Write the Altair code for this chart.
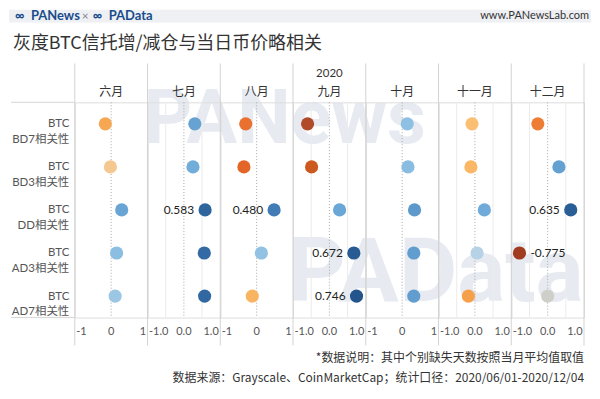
import altair as alt
import pandas as pd

# ---------------- data ----------------
months = ["六月", "七月", "八月", "九月", "十月", "十一月", "十二月"]
rows = ["BTC BD7相关性", "BTC BD3相关性", "BTC DD相关性", "BTC AD3相关性", "BTC AD7相关性"]

bd7 = [-0.16, 0.30, -0.30, -0.60, 0.14, -0.08, -0.27]
bd3 = [-0.02, 0.25, -0.35, -0.49, 0.16, -0.11, 0.31]
dd = [0.29, 0.583, 0.480, 0.28, 0.34, 0.26, 0.635]
ad3 = [0.15, 0.56, 0.13, 0.672, 0.32, 0.06, -0.775]
ad7 = [0.11, 0.57, -0.12, 0.746, 0.32, -0.18, 0.00]

bd7_lab = ["", "", "", "", "", "", ""]
bd3_lab = ["", "", "", "", "", "", ""]
dd_lab = ["", "0.583", "0.480", "", "", "", "0.635"]
ad3_lab = ["", "", "", "0.672", "", "", "-0.775"]
ad7_lab = ["", "", "", "0.746", "", "", ""]

tick_values = [-1, 0, 1]
tick_formats = ["d", ".1f", "d", ".1f", "d", ".1f", ".1f"]
half_grid = [-0.5, 0.5]

title_text = "灰度BTC信托增/减仓与当日币价略相关"
year_text = "2020"
note_text = "*数据说明：其中个别缺失天数按照当月平均值取值"
source_text = "数据来源：Grayscale、CoinMarketCap；统计口径：2020/06/01-2020/12/04"

records = []
for r, vals, labs in zip(rows, [bd7, bd3, dd, ad3, ad7],
                         [bd7_lab, bd3_lab, dd_lab, ad3_lab, ad7_lab]):
    for m, v, l in zip(months, vals, labs):
        records.append({"row": r, "month": m, "value": v, "label": l})
df = pd.DataFrame(records)

# ---------------- styling ----------------
W, H = 73, 216
FONT = "Lato, 'Noto Sans CJK SC', sans-serif"
CJK = "'Noto Sans CJK SC', sans-serif"

c_dom = [-0.8, -0.6, -0.48, -0.32, -0.18, -0.09, -0.02, 0, 0.06, 0.14, 0.28, 0.35, 0.5, 0.6, 0.8]
c_rng = ["#A03A1E", "#B04A2A", "#CF5A1E", "#E8682A", "#F5A04A", "#FBBE6E", "#F6C891",
         "#CFCFCA", "#B5D2E6", "#8DC0E2", "#6AA6D6", "#5B97C9", "#3E78B3", "#2C6199", "#1F4F86"]

xs = alt.Scale(domain=[-1, 1], nice=False, zero=False)
ys = alt.Scale(domain=rows)
cs = alt.Scale(domain=c_dom, range=c_rng, interpolate="rgb")

one = pd.DataFrame({"a": [0]})


def txt(text, x, y, **kw):
    return alt.Chart(one).mark_text(text=text, **kw).encode(x=alt.value(x), y=alt.value(y))


def tick_layer(fmt, cond, align, dx):
    return alt.Chart(pd.DataFrame({"value": tick_values})).transform_filter(cond).transform_calculate(
        lab="replace(format(datum.value, '%s'), '\u2212', '-')" % fmt
    ).mark_text(align=align, dx=dx, fontSize=11, color="#555", baseline="middle", font=FONT).encode(
        x=alt.X("value:Q", scale=xs, axis=None), y=alt.value(H + 14), text="lab:N")


def panel(i, m, fmt):
    d = df[df.month == m]
    if i == 0:
        yaxis = alt.Axis(title=None, labelExpr="split(datum.label, ' ')", ticks=False,
                         domain=False, grid=False, labelFontSize=11.5, labelColor="#555",
                         labelLineHeight=16, labelPadding=6, labelFont=FONT)
    else:
        yaxis = None

    layers = []
    if i == 0:
        wm = "#E7EBF1"
        layers += [
            alt.Chart(one).mark_rect(color="#EEF0F4").encode(
                x=alt.value(-66), x2=alt.value(518), y=alt.value(-93), y2=alt.value(-80)),
            txt("∞", -60, -86.5, fontSize=13, fontWeight="bold", color="#1A4C8B", align="left", baseline="middle", font=FONT),
            txt("PANews", -44, -86.5, fontSize=13, fontWeight="bold", color="#1A4C8B", align="left", baseline="middle", font=FONT),
            txt("×", 7, -86.5, fontSize=12, color="#888", align="left", baseline="middle", font=FONT),
            txt("∞", 18, -86.5, fontSize=13, fontWeight="bold", color="#1A4C8B", align="left", baseline="middle", font=FONT),
            txt("PAData", 34, -86.5, fontSize=13, fontWeight="bold", color="#1A4C8B", align="left", baseline="middle", font=FONT),
            txt("www.PANewsLab.com", 516, -86.5, fontSize=11, color="#333", align="right", baseline="middle", font=FONT),
            txt(title_text, -62, -59, fontSize=18, color="#333", align="left", baseline="middle", font=CJK),
            txt("PANews", 69, 41, fontSize=76, fontWeight="bold", color=wm, align="left", baseline="alphabetic", font="Roboto"),
            txt("PAData", 214, 199, fontSize=90, fontWeight="bold", color=wm, align="left", baseline="alphabetic", font="Roboto"),
            alt.Chart(one).mark_rule(color="#D5D5D5").encode(
                x=alt.value(-64), x2=alt.value(0), y=alt.value(0)),
            alt.Chart(one).mark_rule(color="#D5D5D5").encode(
                x=alt.value(-64), x2=alt.value(0), y=alt.value(H)),
        ]
    if fmt == ".1f":
        layers.append(alt.Chart(pd.DataFrame({"value": half_grid})).mark_rule(
            color="#EBEBEB", strokeWidth=1).encode(x=alt.X("value:Q", scale=xs, axis=None)))
    layers.append(alt.Chart(pd.DataFrame({"value": [0]})).mark_rule(
        color="#A8A8A8", strokeWidth=1, strokeDash=[1, 2]).encode(x=alt.X("value:Q", scale=xs, axis=None)))
    layers.append(alt.Chart(one).mark_rule(color="#D3D3D3").encode(
        x=alt.value(0), y=alt.value(-39), y2=alt.value(244)))
    # month header
    layers.append(txt(m, W / 2, -10, fontSize=12, color="#333", align="center", baseline="middle", font=CJK))
    # tick labels (first flush left, middle centred, last flush right)
    layers.append(tick_layer(fmt, "datum.value == -1", "left", 1.5))
    layers.append(tick_layer(fmt, "datum.value == 0", "center", 0))
    layers.append(tick_layer(fmt, "datum.value == 1", "right", -1.5))
    if i == len(months) - 1:
        layers.append(alt.Chart(one).mark_rule(color="#D3D3D3").encode(
            x=alt.value(W), y=alt.value(-39), y2=alt.value(244)))
        layers.append(txt(note_text, W, 257, fontSize=12, color="#333", align="right", baseline="middle", font=CJK))
        layers.append(txt(source_text, W, 277, fontSize=12, color="#333", align="right", baseline="middle", font=CJK))
    if i == 3:
        layers.append(txt(year_text, W / 2, -28, fontSize=11.5, color="#333", align="center", baseline="middle", font=FONT))

    layers.append(alt.Chart(d).mark_circle(size=175, opacity=1).encode(
        x=alt.X("value:Q", scale=xs, axis=None),
        y=alt.Y("row:N", scale=ys, axis=yaxis, sort=rows, title=None),
        color=alt.Color("value:Q", scale=cs, legend=None),
    ))
    layers.append(alt.Chart(d).transform_filter("datum.label != '' && datum.value >= 0").mark_text(
        align="right", dx=-11, fontSize=12, color="#222", baseline="middle", font=FONT).encode(
        x=alt.X("value:Q", scale=xs, axis=None),
        y=alt.Y("row:N", scale=ys, sort=rows, title=None),
        text="label:N"))
    layers.append(alt.Chart(d).transform_filter("datum.label != '' && datum.value < 0").mark_text(
        align="left", dx=11, fontSize=12, color="#222", baseline="middle", font=FONT).encode(
        x=alt.X("value:Q", scale=xs, axis=None),
        y=alt.Y("row:N", scale=ys, sort=rows, title=None),
        text="label:N"))

    return alt.layer(*layers).properties(width=W, height=H)


panels = [panel(i, m, f) for i, (m, f) in enumerate(zip(months, tick_formats))]

chart = alt.hconcat(*panels, spacing=0, bounds="flush").properties(padding=0).configure_view(
    stroke="#D5D5D5", strokeWidth=1
).configure(background="white")

chart.save("out.html", embed_options={"renderer": "svg", "actions": False})
